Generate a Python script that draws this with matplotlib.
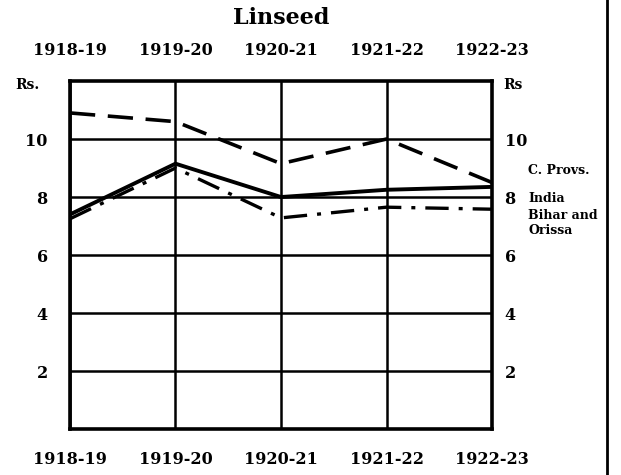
import matplotlib
matplotlib.use("Agg")
import matplotlib.pyplot as plt

# Linseed prices (Rs.)
years = ["1918-19", "1919-20", "1920-21", "1921-22", "1922-23"]
c_provs = [10.9, 10.6, 9.15, 10.0, 8.5]
india = [7.4, 9.15, 8.0, 8.25, 8.35]
bihar_orissa = [7.25, 9.0, 7.28, 7.65, 7.58]
yticks = [2, 4, 6, 8, 10]

plt.rcParams["font.family"] = "DejaVu Serif"
plt.rcParams["font.weight"] = "bold"

fig = plt.figure(figsize=(6.21, 4.75), dpi=100)
ax = fig.add_axes([0.1127, 0.0968, 0.6796, 0.7326])

x = range(len(years))
ax.plot(x, c_provs, color="black", lw=2.6, dashes=(7, 3.5), solid_capstyle="butt")
ax.plot(x, india, color="black", lw=2.8)
ax.plot(x, bihar_orissa, color="black", lw=2.4, dashes=(7, 3, 1.2, 3))

ax.set_xlim(0, len(years) - 1)
ax.set_ylim(0, 12)
ax.set_xticks(list(x))
ax.set_xticklabels(years)
ax.set_yticks(yticks)
ax.set_yticklabels([str(v) for v in yticks])
ax.tick_params(axis="x", length=0, labelsize=11.5, labeltop=True, pad=16)
ax.tick_params(axis="y", length=0, labelsize=11.5, pad=16)
ax.grid(True, color="black", lw=1.8)
for s in ax.spines.values():
    s.set_linewidth(2.6)

# same scale repeated on the right side
ax2 = ax.twinx()
ax2.set_ylim(ax.get_ylim())
ax2.set_yticks(yticks)
ax2.set_yticklabels([str(v) for v in yticks])
ax2.tick_params(axis="y", length=0, labelsize=11.5, pad=9)
for s in ax2.spines.values():
    s.set_visible(False)

ax.text(-0.13, 0.989, "Rs.", transform=ax.transAxes, fontsize=10, ha="left", va="center")
ax.text(1.027, 0.989, "Rs", transform=ax.transAxes, fontsize=10, ha="left", va="center")

# labels for the series to the right of the frame
ax.annotate("C. Provs.", xy=(1.0, 8.9), xycoords=("axes fraction", "data"),
            xytext=(26, 0), textcoords="offset points", fontsize=9, va="center")
ax.annotate("India", xy=(1.0, 7.95), xycoords=("axes fraction", "data"),
            xytext=(26, 0), textcoords="offset points", fontsize=9, va="center")
ax.annotate("Bihar and", xy=(1.0, 7.38), xycoords=("axes fraction", "data"),
            xytext=(26, 0), textcoords="offset points", fontsize=9, va="center")
ax.annotate("Orissa", xy=(1.0, 6.85), xycoords=("axes fraction", "data"),
            xytext=(26, 0), textcoords="offset points", fontsize=9, va="center")

fig.text(0.452, 0.962, "Linseed", ha="center", va="center", fontsize=16)
fig.add_artist(plt.Line2D([0.978, 0.978], [0, 1], color="black", lw=2))

fig.savefig("out.png", dpi=100)
